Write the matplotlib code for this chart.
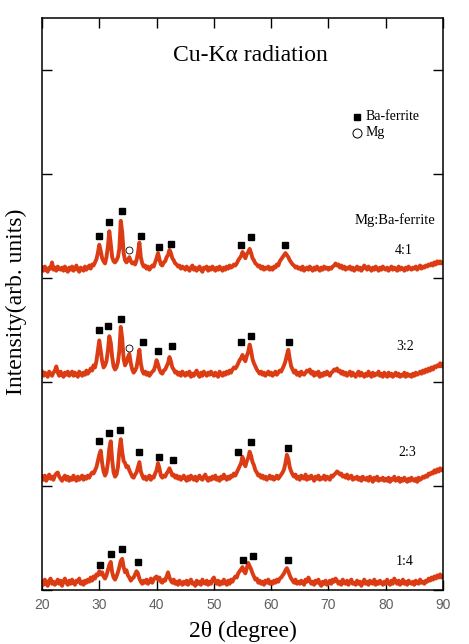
import numpy as np
import matplotlib
matplotlib.use("Agg")
import matplotlib.pyplot as plt

# 2-theta grid (degree), 0.25 deg steps from 20 to 90 (281 points)
two_theta = np.arange(20.0, 90.001, 0.25)

# Intensities (arb. units); one row = 5 degrees
int_14 = [
    0.08, 0.05, 0.10, 0.06, 0.04, 0.09, 0.11, 0.06, 0.08, 0.05, 0.07, 0.10, 0.06, 0.09, 0.04, 0.08, 0.11, 0.07, 0.05, 0.09,
    0.06, 0.10, 0.07, 0.05, 0.09, 0.08, 0.11, 0.06, 0.08, 0.05, 0.09, 0.07, 0.10, 0.08, 0.12, 0.09, 0.13, 0.11, 0.15, 0.14,
    0.18, 0.15, 0.17, 0.13, 0.11, 0.14, 0.19, 0.24, 0.27, 0.17, 0.12, 0.10, 0.13, 0.17, 0.22, 0.28, 0.30, 0.22, 0.17, 0.19,
    0.14, 0.12, 0.09, 0.11, 0.12, 0.15, 0.18, 0.16, 0.11, 0.08, 0.06, 0.09, 0.07, 0.10, 0.06, 0.08, 0.11, 0.07, 0.10, 0.12,
    0.13, 0.10, 0.12, 0.08, 0.07, 0.10, 0.09, 0.13, 0.17, 0.12, 0.09, 0.07, 0.10, 0.06, 0.08, 0.05, 0.09, 0.07, 0.05, 0.08,
    0.06, 0.09, 0.05, 0.08, 0.10, 0.06, 0.07, 0.04, 0.09, 0.06, 0.08, 0.05, 0.10, 0.07, 0.06, 0.09, 0.05, 0.08, 0.06, 0.10,
    0.12, 0.08, 0.06, 0.09, 0.05, 0.08, 0.06, 0.10, 0.07, 0.05, 0.09, 0.06, 0.10, 0.08, 0.11, 0.13, 0.12, 0.16, 0.18, 0.20,
    0.22, 0.18, 0.16, 0.21, 0.26, 0.23, 0.20, 0.16, 0.13, 0.10, 0.11, 0.07, 0.09, 0.06, 0.08, 0.05, 0.09, 0.07, 0.10, 0.06,
    0.08, 0.06, 0.09, 0.07, 0.10, 0.08, 0.11, 0.12, 0.14, 0.16, 0.19, 0.21, 0.18, 0.14, 0.11, 0.09, 0.07, 0.10, 0.06, 0.08,
    0.06, 0.09, 0.07, 0.05, 0.10, 0.08, 0.12, 0.09, 0.06, 0.08, 0.05, 0.09, 0.07, 0.10, 0.06, 0.04, 0.08, 0.06, 0.09, 0.05,
    0.07, 0.09, 0.06, 0.10, 0.08, 0.11, 0.09, 0.06, 0.08, 0.05, 0.10, 0.07, 0.06, 0.09, 0.05, 0.08, 0.10, 0.06, 0.07, 0.05,
    0.09, 0.06, 0.08, 0.04, 0.07, 0.10, 0.06, 0.08, 0.05, 0.09, 0.07, 0.06, 0.10, 0.05, 0.08, 0.06, 0.09, 0.07, 0.05, 0.08,
    0.06, 0.10, 0.07, 0.05, 0.09, 0.06, 0.11, 0.08, 0.06, 0.09, 0.05, 0.07, 0.10, 0.06, 0.08, 0.05, 0.09, 0.07, 0.06, 0.08,
    0.05, 0.09, 0.07, 0.06, 0.10, 0.07, 0.08, 0.06, 0.09, 0.08, 0.11, 0.09, 0.12, 0.10, 0.13, 0.11, 0.14, 0.12, 0.15, 0.12,
    0.13,
]
int_23 = [
    0.09, 0.06, 0.10, 0.05, 0.08, 0.11, 0.07, 0.09, 0.06, 0.10, 0.12, 0.13, 0.09, 0.07, 0.05, 0.08, 0.10, 0.06, 0.09, 0.05,
    0.08, 0.06, 0.10, 0.07, 0.05, 0.09, 0.06, 0.08, 0.10, 0.06, 0.09, 0.07, 0.10, 0.08, 0.11, 0.13, 0.12, 0.15, 0.18, 0.24,
    0.30, 0.34, 0.22, 0.14, 0.10, 0.13, 0.22, 0.36, 0.43, 0.25, 0.13, 0.09, 0.11, 0.18, 0.34, 0.45, 0.33, 0.24, 0.22, 0.18,
    0.19, 0.15, 0.12, 0.09, 0.08, 0.11, 0.13, 0.18, 0.23, 0.14, 0.10, 0.07, 0.09, 0.06, 0.08, 0.10, 0.06, 0.09, 0.08, 0.12,
    0.15, 0.22, 0.17, 0.10, 0.08, 0.10, 0.09, 0.12, 0.14, 0.17, 0.14, 0.10, 0.11, 0.08, 0.10, 0.07, 0.09, 0.06, 0.08, 0.10,
    0.07, 0.05, 0.09, 0.06, 0.10, 0.08, 0.06, 0.09, 0.05, 0.08, 0.10, 0.07, 0.06, 0.09, 0.11, 0.07, 0.05, 0.08, 0.06, 0.09,
    0.07, 0.10, 0.06, 0.08, 0.05, 0.09, 0.07, 0.11, 0.08, 0.06, 0.09, 0.07, 0.10, 0.09, 0.12, 0.10, 0.13, 0.16, 0.19, 0.22,
    0.28, 0.22, 0.19, 0.24, 0.27, 0.33, 0.29, 0.23, 0.20, 0.15, 0.13, 0.10, 0.11, 0.08, 0.10, 0.07, 0.09, 0.06, 0.08, 0.10,
    0.07, 0.09, 0.06, 0.08, 0.10, 0.07, 0.09, 0.11, 0.13, 0.16, 0.22, 0.30, 0.26, 0.18, 0.14, 0.11, 0.09, 0.11, 0.07, 0.09,
    0.06, 0.10, 0.08, 0.07, 0.11, 0.06, 0.09, 0.07, 0.10, 0.08, 0.05, 0.09, 0.07, 0.10, 0.06, 0.08, 0.07, 0.10, 0.06, 0.09,
    0.08, 0.06, 0.10, 0.09, 0.11, 0.12, 0.14, 0.13, 0.11, 0.12, 0.09, 0.10, 0.08, 0.11, 0.07, 0.09, 0.10, 0.06, 0.08, 0.07,
    0.09, 0.06, 0.08, 0.05, 0.09, 0.07, 0.06, 0.08, 0.05, 0.09, 0.07, 0.04, 0.08, 0.06, 0.09, 0.05, 0.07, 0.06, 0.08, 0.05,
    0.07, 0.05, 0.08, 0.04, 0.07, 0.06, 0.09, 0.05, 0.06, 0.08, 0.04, 0.07, 0.05, 0.08, 0.06, 0.04, 0.07, 0.05, 0.08, 0.06,
    0.05, 0.07, 0.04, 0.08, 0.06, 0.07, 0.09, 0.08, 0.10, 0.09, 0.12, 0.11, 0.13, 0.12, 0.15, 0.13, 0.16, 0.14, 0.17, 0.15,
    0.16,
]
int_32 = [
    0.10, 0.06, 0.09, 0.07, 0.05, 0.10, 0.08, 0.06, 0.09, 0.11, 0.15, 0.09, 0.06, 0.10, 0.07, 0.05, 0.09, 0.07, 0.10, 0.06,
    0.08, 0.10, 0.06, 0.09, 0.07, 0.05, 0.10, 0.08, 0.06, 0.09, 0.07, 0.11, 0.08, 0.10, 0.13, 0.11, 0.16, 0.14, 0.20, 0.30,
    0.40, 0.30, 0.20, 0.14, 0.16, 0.20, 0.30, 0.44, 0.38, 0.24, 0.15, 0.12, 0.14, 0.19, 0.30, 0.53, 0.42, 0.22, 0.16, 0.19,
    0.24, 0.27, 0.18, 0.12, 0.09, 0.11, 0.14, 0.22, 0.31, 0.18, 0.11, 0.08, 0.10, 0.07, 0.09, 0.06, 0.08, 0.10, 0.11, 0.15,
    0.21, 0.17, 0.12, 0.09, 0.08, 0.11, 0.12, 0.15, 0.18, 0.24, 0.20, 0.14, 0.12, 0.09, 0.10, 0.07, 0.09, 0.06, 0.10, 0.08,
    0.06, 0.09, 0.07, 0.10, 0.05, 0.08, 0.06, 0.09, 0.11, 0.07, 0.05, 0.09, 0.06, 0.10, 0.08, 0.06, 0.09, 0.07, 0.10, 0.08,
    0.06, 0.09, 0.07, 0.05, 0.10, 0.08, 0.06, 0.09, 0.07, 0.10, 0.08, 0.11, 0.09, 0.12, 0.14, 0.13, 0.15, 0.18, 0.21, 0.23,
    0.26, 0.22, 0.20, 0.25, 0.29, 0.36, 0.30, 0.22, 0.18, 0.15, 0.12, 0.10, 0.08, 0.10, 0.07, 0.09, 0.06, 0.08, 0.10, 0.07,
    0.09, 0.06, 0.08, 0.10, 0.07, 0.09, 0.11, 0.10, 0.13, 0.16, 0.20, 0.26, 0.31, 0.22, 0.15, 0.12, 0.09, 0.11, 0.07, 0.09,
    0.06, 0.10, 0.08, 0.07, 0.09, 0.11, 0.10, 0.12, 0.08, 0.10, 0.06, 0.09, 0.07, 0.10, 0.05, 0.08, 0.06, 0.09, 0.07, 0.10,
    0.08, 0.06, 0.09, 0.10, 0.12, 0.11, 0.13, 0.10, 0.11, 0.08, 0.10, 0.07, 0.09, 0.06, 0.08, 0.10, 0.06, 0.09, 0.07, 0.05,
    0.08, 0.10, 0.06, 0.09, 0.07, 0.05, 0.08, 0.06, 0.10, 0.07, 0.05, 0.09, 0.06, 0.08, 0.07, 0.10, 0.06, 0.08, 0.05, 0.09,
    0.07, 0.05, 0.09, 0.06, 0.08, 0.05, 0.07, 0.09, 0.06, 0.08, 0.05, 0.07, 0.06, 0.09, 0.05, 0.08, 0.06, 0.07, 0.05, 0.08,
    0.06, 0.09, 0.07, 0.08, 0.10, 0.08, 0.11, 0.09, 0.12, 0.10, 0.13, 0.11, 0.14, 0.12, 0.15, 0.14, 0.16, 0.15, 0.18, 0.15,
    0.17,
]
int_41 = [
    0.10, 0.07, 0.11, 0.08, 0.06, 0.10, 0.09, 0.15, 0.08, 0.10, 0.07, 0.11, 0.09, 0.08, 0.10, 0.07, 0.11, 0.08, 0.06, 0.10,
    0.08, 0.11, 0.07, 0.09, 0.12, 0.08, 0.06, 0.10, 0.09, 0.07, 0.11, 0.08, 0.10, 0.12, 0.09, 0.13, 0.12, 0.15, 0.18, 0.24,
    0.32, 0.26, 0.19, 0.16, 0.14, 0.20, 0.30, 0.45, 0.33, 0.20, 0.16, 0.15, 0.17, 0.20, 0.28, 0.55, 0.44, 0.24, 0.17, 0.15,
    0.17, 0.20, 0.16, 0.14, 0.15, 0.13, 0.17, 0.24, 0.34, 0.20, 0.14, 0.11, 0.12, 0.09, 0.11, 0.08, 0.10, 0.12, 0.11, 0.15,
    0.19, 0.24, 0.18, 0.13, 0.12, 0.15, 0.16, 0.20, 0.22, 0.27, 0.24, 0.19, 0.17, 0.14, 0.13, 0.11, 0.12, 0.09, 0.11, 0.10,
    0.08, 0.11, 0.09, 0.07, 0.10, 0.12, 0.08, 0.10, 0.07, 0.09, 0.11, 0.08, 0.06, 0.10, 0.09, 0.11, 0.07, 0.10, 0.08, 0.11,
    0.09, 0.07, 0.10, 0.08, 0.11, 0.09, 0.07, 0.10, 0.08, 0.11, 0.09, 0.12, 0.10, 0.11, 0.13, 0.12, 0.14, 0.17, 0.19, 0.21,
    0.25, 0.22, 0.19, 0.23, 0.25, 0.28, 0.24, 0.19, 0.17, 0.14, 0.13, 0.11, 0.12, 0.09, 0.11, 0.08, 0.10, 0.09, 0.11, 0.08,
    0.10, 0.08, 0.11, 0.10, 0.13, 0.12, 0.16, 0.18, 0.20, 0.22, 0.24, 0.22, 0.20, 0.17, 0.15, 0.13, 0.12, 0.10, 0.11, 0.09,
    0.10, 0.08, 0.11, 0.07, 0.09, 0.10, 0.08, 0.11, 0.09, 0.07, 0.10, 0.08, 0.11, 0.09, 0.07, 0.10, 0.08, 0.11, 0.09, 0.10,
    0.08, 0.10, 0.09, 0.11, 0.12, 0.14, 0.12, 0.13, 0.10, 0.12, 0.09, 0.11, 0.08, 0.10, 0.09, 0.11, 0.08, 0.10, 0.07, 0.09,
    0.11, 0.08, 0.10, 0.07, 0.09, 0.12, 0.10, 0.08, 0.11, 0.09, 0.07, 0.10, 0.08, 0.11, 0.09, 0.07, 0.10, 0.08, 0.11, 0.09,
    0.08, 0.10, 0.07, 0.09, 0.11, 0.08, 0.10, 0.09, 0.07, 0.11, 0.08, 0.10, 0.09, 0.07, 0.10, 0.08, 0.11, 0.09, 0.08, 0.10,
    0.09, 0.11, 0.08, 0.10, 0.12, 0.09, 0.11, 0.10, 0.12, 0.11, 0.13, 0.12, 0.14, 0.12, 0.15, 0.13, 0.16, 0.14, 0.16, 0.14,
    0.15,
]

ratios = ["1:4", "2:3", "3:2", "4:1"]
series = [int_14, int_23, int_32, int_41]
offsets = [0.0, 1.0, 2.0, 3.0]

# Ba-ferrite peak marks (2theta, intensity incl. offset)
baf_x_14 = [30.2, 32.0, 34.0, 36.7, 55.0, 56.8, 63.0]
baf_y_14 = [0.24, 0.35, 0.39, 0.27, 0.29, 0.33, 0.29]
baf_x_23 = [30.0, 31.75, 33.55, 37.0, 40.5, 42.9, 54.3, 56.5, 63.0]
baf_y_23 = [1.43, 1.51, 1.54, 1.33, 1.28, 1.25, 1.33, 1.42, 1.37]
baf_x_32 = [29.9, 31.6, 33.8, 37.6, 40.3, 42.7, 54.7, 56.5, 63.05]
baf_y_32 = [2.50, 2.54, 2.61, 2.38, 2.30, 2.35, 2.38, 2.44, 2.38]
baf_x_41 = [30.0, 31.7, 34.0, 37.2, 40.4, 42.6, 54.8, 56.5, 62.5]
baf_y_41 = [3.40, 3.54, 3.64, 3.40, 3.30, 3.33, 3.32, 3.39, 3.32]
# Mg peak marks
mg_x = [35.2, 35.2]
mg_y = [2.33, 3.27]

xticks = [20, 30, 40, 50, 60, 70, 80, 90]

color = "#dc3c14"
serif = ["Liberation Serif", "DejaVu Serif"]

fig = plt.figure(figsize=(4.69, 6.44), dpi=100)
ax = fig.add_axes([42 / 469, 54 / 644, 401 / 469, 572 / 644])

for vals, off in zip(series, offsets):
    n = min(len(vals), len(two_theta))
    ax.plot(two_theta[:n], np.array(vals[:n]) + off, color=color, lw=2.8,
            zorder=2)

for bx, by in [(baf_x_14, baf_y_14), (baf_x_23, baf_y_23),
               (baf_x_32, baf_y_32), (baf_x_41, baf_y_41)]:
    ax.plot(bx, by, ls="none", marker="s", ms=4.3, color="black", zorder=3)
ax.plot(mg_x, mg_y, ls="none", marker="o", ms=5, mfc="white", mec="black",
        mew=0.6, zorder=3)

ax.set_xlim(20, 90)
ax.set_ylim(0, 5.5)
ax.set_xticks(xticks)
ax.set_yticks([0, 1, 2, 3, 4, 5])
ax.set_yticklabels([])
ax.tick_params(axis="both", direction="in", length=7, width=1.0,
               top=True, right=True)
ax.tick_params(axis="x", labelsize=10, labelcolor="#606060", pad=6)
for lab in ax.get_xticklabels():
    lab.set_family(["Liberation Sans", "DejaVu Sans"])
for s in ax.spines.values():
    s.set_linewidth(1.1)

ax.text(0.519, 0.935, "Cu-K\u03b1 radiation", transform=ax.transAxes,
        ha="center", va="center", fontsize=17, family=serif)
ax.plot([0.7855], [0.827], transform=ax.transAxes, marker="s", ms=5,
        color="black", ls="none", clip_on=False)
ax.text(0.808, 0.827, "Ba-ferrite", transform=ax.transAxes, ha="left",
        va="center", fontsize=10, family=serif)
ax.plot([0.7855], [0.799], transform=ax.transAxes, marker="o", ms=6.5,
        mfc="white", mec="black", mew=0.7, ls="none", clip_on=False)
ax.text(0.808, 0.799, "Mg", transform=ax.transAxes, ha="left",
        va="center", fontsize=10, family=serif)

ax.text(0.880, 0.647, "Mg:Ba-ferrite", transform=ax.transAxes,
        ha="center", va="center", fontsize=10.5, family=serif)
label_pos = {"4:1": (0.903, 0.594), "3:2": (0.905, 0.425),
             "2:3": (0.910, 0.241), "1:4": (0.905, 0.049)}
for r in ratios:
    px, py = label_pos[r]
    ax.text(px, py, r, transform=ax.transAxes, ha="center", va="center",
            fontsize=10, family=serif)

ax.text(0.501, -0.073, "2\u03b8 (degree)", transform=ax.transAxes,
        ha="center", va="center", fontsize=17, family=serif)
ax.text(-0.065, 0.503, "Intensity(arb. units)", transform=ax.transAxes,
        ha="center", va="center", rotation=90, fontsize=17, family=serif)

fig.savefig("out.png", dpi=100)
